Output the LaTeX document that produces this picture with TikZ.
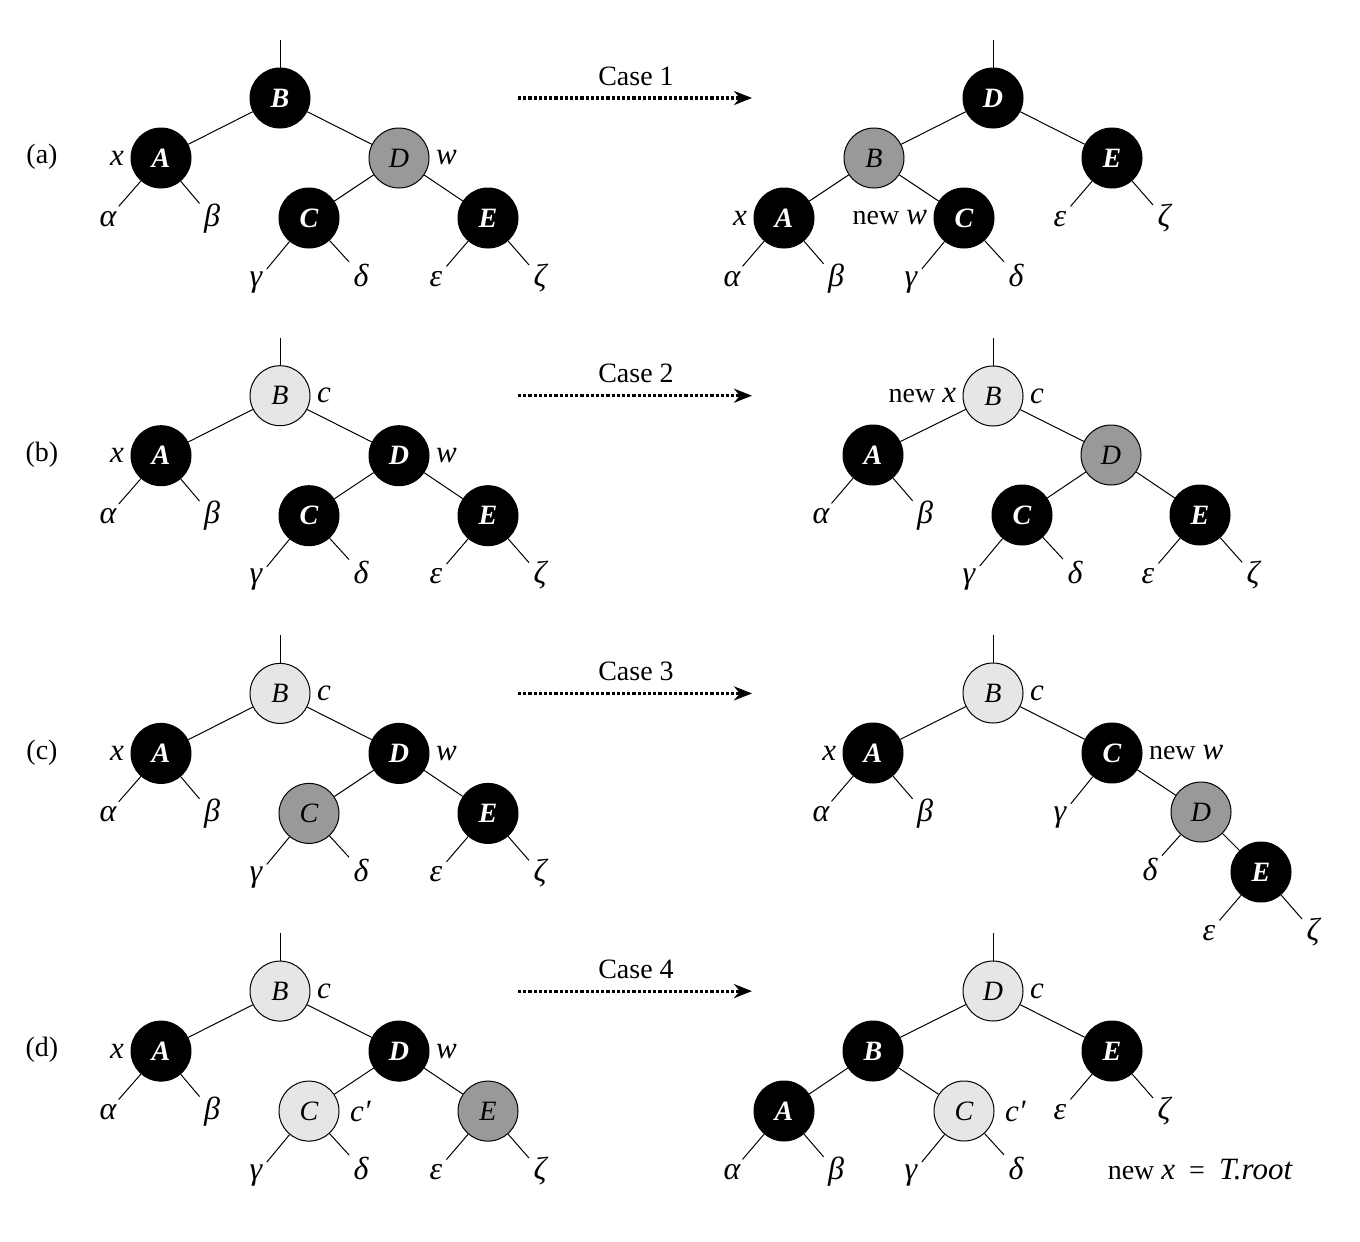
\documentclass[tikz,border=0pt]{standalone}
\usepackage{fontspec}
\setmainfont{Liberation Serif}
\usetikzlibrary{positioning, arrows.meta}
\definecolor{rbdark}{HTML}{999999}
\definecolor{rblight}{HTML}{E6E6E6}
\newcommand{\rbvar}[1]{{\fontsize{15.5}{18}\selectfont\itshape #1}}
\tikzset{
	treenode/.style={
			circle,
			draw=black,
			line width=0.5pt,
			minimum size=30pt,
			inner sep=0pt
		},
	blacknode/.style={
			treenode,
			fill=black,
			text=white,
			font=\bfseries\itshape
		},
	darknode/.style={
			treenode,
			fill=rbdark,
			font=\itshape
		},
	lightnode/.style={
			treenode,
			fill=rblight,
			font=\itshape
		},
	leaf/.style={
			anchor=base,
			inner sep=2pt,
			font=\fontsize{16}{18}\selectfont\itshape
		},
	tag/.style={
			inner sep=1pt
		},
	casearrow/.style={
			densely dotted,
			line width=1.6pt,
			-{Stealth[length=9pt,width=7pt]}
		}
}
\begin{document}
\fontsize{14}{16}\selectfont
\begin{tikzpicture}[x=0.5pt, y=-0.5pt, line width=0.5pt]
\useasboundingbox (0,0) rectangle (1360,1242);

% left column, the tree before each case
\foreach \r/\n/\y/\sB/\sD/\sC/\sE in {
    a/1/98/blacknode/darknode/blacknode/blacknode,
    b/2/395.7/lightnode/blacknode/blacknode/blacknode,
    c/3/693.4/lightnode/blacknode/darknode/blacknode,
    d/4/991.1/lightnode/blacknode/lightnode/darknode} {
  \node (\r lab) at (42,\y+59) {(\r)};
  \coordinate (\r top) at (280,\y-58);
  \node[\sB] (\r B) at (280,\y) {B};
  \node[blacknode] (\r A) at (161,\y+60) {A};
  \node[\sD] (\r D) at (399,\y+60) {D};
  \node[\sC] (\r C) at (309,\y+120) {C};
  \node[\sE] (\r E) at (488,\y+120) {E};
  \node[leaf] (\r al) at (108,\y+128) {α};
  \node[leaf] (\r be) at (212,\y+128) {β};
  \node[leaf] (\r ga) at (256,\y+188) {γ};
  \node[leaf] (\r de) at (361,\y+188) {δ};
  \node[leaf] (\r ep) at (436,\y+188) {ε};
  \node[leaf] (\r ze) at (540,\y+188) {ζ};
  \node[tag, left=2pt of \r A] (\r x) {\rbvar{x}};
  \node[tag, right=2pt of \r D] (\r w) {\rbvar{w}};
  \foreach \u/\v in {top/B, B/A, B/D, D/C, D/E, A/al, A/be, C/ga, C/de, E/ep, E/ze}
    \draw (\r\u) -- (\r\v);
  % the case arrow
  \node (\r case) at (636,\y-22) {Case \n};
  \coordinate (\r from) at (518,\y);
  \coordinate (\r to) at (752,\y);
  \draw[casearrow] (\r from) -- (\r to);
}
\node[tag, right=2pt of bB] (bc) {\rbvar{c}};
\node[tag, right=2pt of cB] (cc) {\rbvar{c}};
\node[tag, right=2pt of dB] (dc) {\rbvar{c}};
\node[tag, right=4pt of dC] (dcc) {\rbvar{c′}};

% (a) after case 1
\coordinate (aRtop) at (993,40);
\node[blacknode] (aRD) at (993,98) {D};
\node[darknode] (aRB) at (874,158) {B};
\node[blacknode] (aRE) at (1112,158) {E};
\node[blacknode] (aRA) at (784,218) {A};
\node[blacknode] (aRC) at (964,218) {C};
\node[leaf] (aRal) at (732,286) {α};
\node[leaf] (aRbe) at (836,286) {β};
\node[leaf] (aRga) at (911,286) {γ};
\node[leaf] (aRde) at (1016,286) {δ};
\node[leaf] (aRep) at (1060,226) {ε};
\node[leaf] (aRze) at (1164,226) {ζ};
\node[tag, left=2pt of aRA] (aRx) {\rbvar{x}};
\node[tag, left=2pt of aRC] (aRw) {new \rbvar{w}};
\foreach \u/\v in {aRtop/aRD, aRD/aRB, aRD/aRE, aRB/aRA, aRB/aRC, aRA/aRal, aRA/aRbe,
    aRC/aRga, aRC/aRde, aRE/aRep, aRE/aRze}
  \draw (\u) -- (\v);

% (b) after case 2
\coordinate (bRtop) at (993,338);
\node[lightnode] (bRB) at (993,396) {B};
\node[blacknode] (bRA) at (873,455) {A};
\node[darknode] (bRD) at (1111,455) {D};
\node[blacknode] (bRC) at (1022,515) {C};
\node[blacknode] (bRE) at (1200,515) {E};
\node[leaf] (bRal) at (821,523) {α};
\node[leaf] (bRbe) at (925,523) {β};
\node[leaf] (bRga) at (969,583) {γ};
\node[leaf] (bRde) at (1075,583) {δ};
\node[leaf] (bRep) at (1148,583) {ε};
\node[leaf] (bRze) at (1253,583) {ζ};
\node[tag, left=2pt of bRB] (bRx) {new \rbvar{x}};
\node[tag, right=2pt of bRB] (bRc) {\rbvar{c}};
\foreach \u/\v in {bRtop/bRB, bRB/bRA, bRB/bRD, bRD/bRC, bRD/bRE, bRA/bRal, bRA/bRbe,
    bRC/bRga, bRC/bRde, bRE/bRep, bRE/bRze}
  \draw (\u) -- (\v);

% (c) after case 3
\coordinate (cRtop) at (993,635);
\node[lightnode] (cRB) at (993,693) {B};
\node[blacknode] (cRA) at (873,753) {A};
\node[blacknode] (cRC) at (1112,753) {C};
\node[darknode] (cRD) at (1201,812) {D};
\node[blacknode] (cRE) at (1261,872) {E};
\node[leaf] (cRal) at (821,821) {α};
\node[leaf] (cRbe) at (925,821) {β};
\node[leaf] (cRga) at (1060,821) {γ};
\node[leaf] (cRde) at (1150,880) {δ};
\node[leaf] (cRep) at (1209,940) {ε};
\node[leaf] (cRze) at (1313,940) {ζ};
\node[tag, left=2pt of cRA] (cRx) {\rbvar{x}};
\node[tag, right=2pt of cRB] (cRc) {\rbvar{c}};
\node[tag, right=2pt of cRC] (cRw) {new \rbvar{w}};
\foreach \u/\v in {cRtop/cRB, cRB/cRA, cRB/cRC, cRC/cRD, cRD/cRE, cRA/cRal, cRA/cRbe,
    cRC/cRga, cRD/cRde, cRE/cRep, cRE/cRze}
  \draw (\u) -- (\v);

% (d) after case 4
\coordinate (dRtop) at (993,933);
\node[lightnode] (dRD) at (993,991) {D};
\node[blacknode] (dRB) at (873,1051) {B};
\node[blacknode] (dRE) at (1112,1051) {E};
\node[blacknode] (dRA) at (784,1111) {A};
\node[lightnode] (dRC) at (964,1111) {C};
\node[leaf] (dRal) at (732,1179) {α};
\node[leaf] (dRbe) at (836,1179) {β};
\node[leaf] (dRga) at (911,1179) {γ};
\node[leaf] (dRde) at (1016,1179) {δ};
\node[leaf] (dRep) at (1060,1119) {ε};
\node[leaf] (dRze) at (1164,1119) {ζ};
\node[tag, right=2pt of dRD] (dRc) {\rbvar{c}};
\node[tag, right=4pt of dRC] (dRcc) {\rbvar{c′}};
\node (dRroot) at (1200,1170) {new \rbvar{x}\enspace=\enspace\rbvar{T.root}};
\foreach \u/\v in {dRtop/dRD, dRD/dRB, dRD/dRE, dRB/dRA, dRB/dRC, dRA/dRal, dRA/dRbe,
    dRC/dRga, dRC/dRde, dRE/dRep, dRE/dRze}
  \draw (\u) -- (\v);
\end{tikzpicture}
\end{document}
